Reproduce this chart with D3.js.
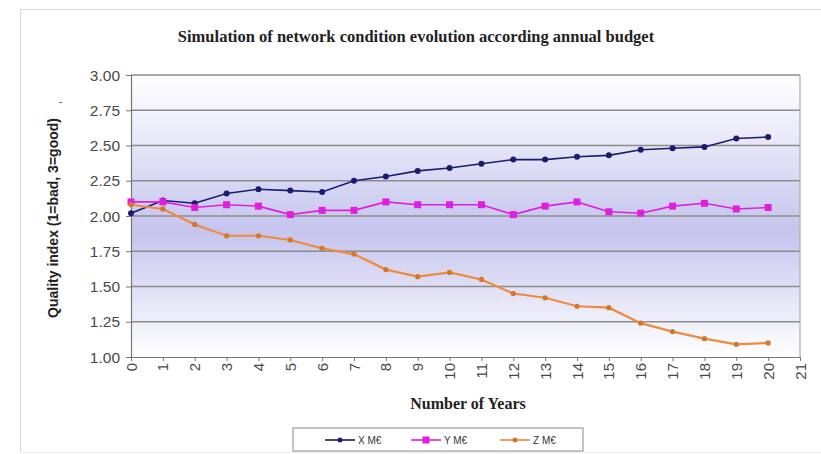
<!DOCTYPE html>
<html>
<head>
<meta charset="utf-8">
<script src="https://cdn.jsdelivr.net/npm/d3@7"></script>
<style>
  body { margin: 0; background: #fff; }
  svg { display: block; }
</style>
</head>
<body>
<svg id="chart" width="821" height="454"></svg>
<script>
const svg = d3.select('#chart');

// data
const years = d3.range(0, 21);
const xSeries = [2.02, 2.11, 2.09, 2.16, 2.19, 2.18, 2.17, 2.25, 2.28, 2.32, 2.34, 2.37, 2.40, 2.40, 2.42, 2.43, 2.47, 2.48, 2.49, 2.55, 2.56];
const ySeries = [2.10, 2.10, 2.06, 2.08, 2.07, 2.01, 2.04, 2.04, 2.10, 2.08, 2.08, 2.08, 2.01, 2.07, 2.10, 2.03, 2.02, 2.07, 2.09, 2.05, 2.06];
const zSeries = [2.08, 2.05, 1.94, 1.86, 1.86, 1.83, 1.77, 1.73, 1.62, 1.57, 1.60, 1.55, 1.45, 1.42, 1.36, 1.35, 1.24, 1.18, 1.13, 1.09, 1.10];
const seriesNames = ['X M€', 'Y M€', 'Z M€'];
const seriesColors = ['#1b1b70', '#e01ee0', '#f08a3c'];
const yTicks = [1.00, 1.25, 1.50, 1.75, 2.00, 2.25, 2.50, 2.75, 3.00];
const xTicks = d3.range(0, 22);

const margin = { top: 75, right: 21, bottom: 97, left: 131 };
const width = +svg.attr('width');
const height = +svg.attr('height');
const innerWidth = width - margin.left - margin.right;
const innerHeight = height - margin.top - margin.bottom;

const series = [xSeries, ySeries, zSeries].map((vals, i) => ({
  name: seriesNames[i],
  color: seriesColors[i],
  values: vals.map((v, j) => ({ year: years[j], value: v }))
}));

// outer frame edges
svg.append('line')
  .attr('x1', 20.5).attr('x2', 20.5).attr('y1', 9).attr('y2', 452)
  .attr('stroke', '#d8d8d8');
svg.append('line')
  .attr('x1', 20).attr('x2', 821).attr('y1', 9.5).attr('y2', 9.5)
  .attr('stroke', '#d8d8d8');
svg.append('line')
  .attr('x1', 20).attr('x2', 821).attr('y1', 452.5).attr('y2', 452.5)
  .attr('stroke', '#ececec');

// background gradient
const defs = svg.append('defs');
const grad = defs.append('linearGradient')
  .attr('id', 'bg').attr('x1', 0).attr('y1', 0).attr('x2', 0).attr('y2', 1);
grad.append('stop').attr('offset', '0%').attr('stop-color', '#ffffff');
grad.append('stop').attr('offset', '20%').attr('stop-color', '#ececfa');
grad.append('stop').attr('offset', '55%').attr('stop-color', '#c4c4ee');
grad.append('stop').attr('offset', '85%').attr('stop-color', '#ececfa');
grad.append('stop').attr('offset', '100%').attr('stop-color', '#ffffff');

const xScale = d3.scaleLinear().domain([0, 21]).range([0, innerWidth]);
const yScale = d3.scaleLinear().domain([1, 3]).range([innerHeight, 0]);

const g = svg.append('g')
  .attr('transform', `translate(${margin.left},${margin.top})`);

g.append('rect')
  .attr('width', innerWidth).attr('height', innerHeight)
  .attr('fill', 'url(#bg)');

// gridlines
g.selectAll('.grid').data(yTicks.filter(d => d > 1)).enter().append('line')
  .attr('class', 'grid')
  .attr('x1', 0).attr('x2', innerWidth)
  .attr('y1', d => yScale(d)).attr('y2', d => yScale(d))
  .attr('stroke', '#8c8c8c').attr('stroke-width', 1.6);

// right border
g.append('line')
  .attr('x1', innerWidth).attr('x2', innerWidth)
  .attr('y1', 0).attr('y2', innerHeight)
  .attr('stroke', '#aaa').attr('stroke-width', 1.2);

// axes (lines from d3 axis, labels placed with the same scales)
const yAxisG = g.append('g')
  .call(d3.axisLeft(yScale).tickValues(yTicks).tickFormat('').tickSize(5));
yAxisG.select('.domain').attr('stroke', '#777').attr('stroke-width', 1.2);
yAxisG.selectAll('.tick line').attr('stroke', '#777');

const xAxisG = g.append('g')
  .attr('transform', `translate(0,${innerHeight})`)
  .call(d3.axisBottom(xScale).tickValues(xTicks).tickFormat('').tickSize(4).tickSizeOuter(0));
xAxisG.select('.domain').attr('stroke', '#777').attr('stroke-width', 1.2);
xAxisG.selectAll('.tick line').attr('stroke', '#777');

const fmt = d3.format('.2f');
g.selectAll('.ylab').data(yTicks).enter().append('text')
  .attr('class', 'ylab')
  .attr('x', -11)
  .attr('y', d => yScale(d) + 5.5)
  .attr('text-anchor', 'end')
  .attr('font-family', 'Liberation Sans, Arial, sans-serif')
  .attr('font-size', 15.5).attr('fill', '#4a4a4a')
  .text(d => fmt(d));

g.selectAll('.xlab').data(xTicks).enter().append('text')
  .attr('class', 'xlab')
  .attr('transform', d => `translate(${xScale(d) + 5.5},${innerHeight + 6}) rotate(-90)`)
  .attr('text-anchor', 'end')
  .attr('font-family', 'Liberation Sans, Arial, sans-serif')
  .attr('font-size', 15).attr('fill', '#4a4a4a')
  .text(d => d);

// lines and markers
const line = d3.line()
  .x(d => xScale(d.year))
  .y(d => yScale(d.value));

series.forEach((s, i) => {
  g.append('path')
    .datum(s.values)
    .attr('fill', 'none')
    .attr('stroke', s.color)
    .attr('stroke-width', i === 2 ? 2.2 : 1.6)
    .attr('d', line);
  const marks = g.selectAll('.m' + i).data(s.values).enter();
  if (i === 1) {
    marks.append('rect')
      .attr('x', d => xScale(d.year) - 3.5)
      .attr('y', d => yScale(d.value) - 3.5)
      .attr('width', 7).attr('height', 7)
      .attr('fill', s.color);
  } else {
    marks.append('circle')
      .attr('cx', d => xScale(d.year))
      .attr('cy', d => yScale(d.value))
      .attr('r', i === 0 ? 3 : 2.6)
      .attr('fill', i === 0 ? s.color : '#d2782c');
  }
});

// title and axis labels
svg.append('text')
  .attr('x', 416).attr('y', 42)
  .attr('text-anchor', 'middle')
  .attr('font-family', 'Liberation Serif, Times New Roman, serif')
  .attr('font-weight', 'bold').attr('font-size', 16.5).attr('fill', '#222')
  .text('Simulation of network condition evolution according annual budget');

svg.append('text')
  .attr('x', 468).attr('y', 409)
  .attr('text-anchor', 'middle')
  .attr('font-family', 'Liberation Serif, Times New Roman, serif')
  .attr('font-weight', 'bold').attr('font-size', 16).attr('fill', '#222')
  .text('Number of  Years');

svg.append('text')
  .attr('transform', 'translate(58,218) rotate(-90)')
  .attr('text-anchor', 'middle')
  .attr('font-family', 'Liberation Sans, Arial, sans-serif')
  .attr('font-weight', 'bold').attr('font-size', 14).attr('fill', '#222')
  .text('Quality index  (1=bad,  3=good)');

svg.append('text')
  .attr('x', 59).attr('y', 105)
  .attr('font-family', 'Liberation Sans, Arial, sans-serif')
  .attr('font-size', 10).attr('fill', '#444')
  .text('-');

// legend
const legend = svg.append('g').attr('transform', 'translate(293,428)');
legend.append('rect')
  .attr('width', 290).attr('height', 23)
  .attr('fill', '#fff').attr('stroke', '#888');
const legendX = [32, 118, 207];
series.forEach((s, i) => {
  const lg = legend.append('g').attr('transform', `translate(${legendX[i]},12)`);
  lg.append('line').attr('x1', 0).attr('x2', 30)
    .attr('stroke', s.color).attr('stroke-width', 1.6);
  if (i === 1) {
    lg.append('rect').attr('x', 11.5).attr('y', -3.5).attr('width', 7).attr('height', 7)
      .attr('fill', s.color);
  } else {
    lg.append('circle').attr('cx', 15).attr('r', 2.5)
      .attr('fill', i === 0 ? s.color : '#d2782c');
  }
  lg.append('text')
    .attr('x', 33).attr('y', 3.5)
    .attr('font-family', 'Liberation Sans, Arial, sans-serif')
    .attr('font-size', 10).attr('fill', '#333')
    .text(s.name);
});
</script>
</body>
</html>
